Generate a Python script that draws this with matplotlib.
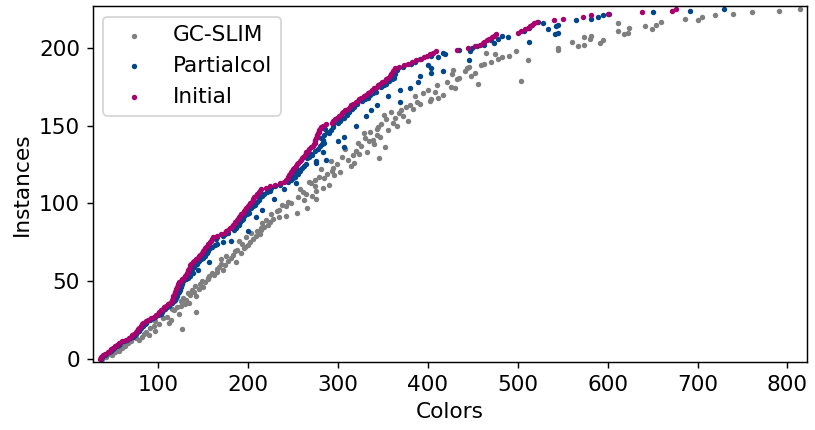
import matplotlib
matplotlib.use("Agg")
import matplotlib.pyplot as plt
import numpy as np

# colours per instance, instances ordered by the Initial colouring
initial = [
    35, 37, 39, 41, 44, 46, 48, 50, 52, 54,
    57, 60, 64, 68, 70, 71, 73, 75, 76, 78,
    79, 81, 82, 83, 86, 89, 92, 95, 98, 100,
    101, 103, 105, 107, 109, 111, 113, 115, 116, 117,
    117, 118, 119, 119, 120, 120, 121, 122, 122, 123,
    125, 127, 129, 130, 131, 132, 133, 133, 134, 135,
    135, 137, 139, 140, 142, 144, 146, 147, 149, 150,
    151, 152, 153, 155, 156, 158, 159, 160, 161, 166,
    170, 174, 176, 178, 180, 182, 183, 185, 186, 188,
    189, 190, 191, 192, 194, 195, 197, 198, 200, 201,
    202, 204, 205, 206, 207, 209, 210, 212, 213, 215,
    220, 224, 230, 236, 240, 242, 244, 245, 246, 247,
    248, 249, 250, 251, 253, 255, 256, 258, 259, 260,
    261, 263, 264, 265, 267, 268, 270, 272, 273, 274,
    275, 275, 276, 277, 277, 278, 279, 279, 280, 281,
    283, 287, 293, 295, 297, 299, 301, 303, 304, 306,
    308, 311, 313, 315, 317, 320, 322, 324, 326, 329,
    331, 333, 336, 338, 340, 343, 345, 347, 349, 352,
    354, 356, 358, 359, 360, 361, 362, 363, 368, 374,
    378, 382, 387, 392, 396, 399, 402, 406, 409, 433,
    445, 452, 458, 461, 463, 466, 468, 471, 474, 476,
    500, 504, 508, 511, 514, 516, 518, 521, 540, 550,
    573, 581, 600, 638, 672, 676,
]

partialcol = [
    36, 38, 41, 42, 45, 48, 50, 51, 54, 56,
    58, 62, 65, 69, 72, 74, 75, 77, 79, 80,
    81, 83, 85, 86, 88, 91, 94, 97, 100, 103,
    104, 105, 108, 110, 112, 113, 116, 118, 119, 120,
    121, 120, 122, 123, 124, 123, 125, 126, 127, 127,
    128, 131, 133, 136, 134, 139, 137, 144, 138, 140,
    141, 143, 157, 145, 148, 150, 152, 151, 154, 156,
    155, 158, 160, 163, 165, 172, 181, 164, 166, 172,
    174, 178, 200, 184, 187, 186, 190, 189, 191, 193,
    194, 209, 196, 199, 201, 200, 216, 203, 206, 208,
    207, 210, 212, 229, 213, 216, 218, 221, 224, 240,
    226, 230, 236, 253, 245, 248, 250, 252, 249, 256,
    253, 258, 255, 260, 262, 264, 276, 276, 287, 266,
    268, 271, 270, 283, 275, 278, 307, 280, 282, 285,
    300, 283, 281, 307, 284, 290, 288, 292, 286, 294,
    320, 295, 300, 302, 303, 307, 331, 310, 309, 312,
    337, 316, 318, 344, 321, 369, 327, 330, 333, 356,
    336, 339, 342, 369, 380, 348, 351, 354, 389, 357,
    360, 362, 391, 364, 404, 417, 366, 404, 372, 400,
    381, 386, 446, 391, 411, 403, 419, 417, 447, 435,
    449, 455, 462, 474, 513, 470, 478, 489, 483, 541,
    545, 507, 534, 512, 543, 545, 528, 523, 565, 581,
    589, 595, 602, 650, 692, 730,
]

gcslim = [
    38, 42, 49, 47, 52, 57, 56, 60, 63, 61,
    67, 70, 79, 75, 82, 90, 84, 86, 97, 127,
    91, 95, 101, 112, 96, 114, 105, 110, 103, 123,
    142, 118, 115, 121, 126, 130, 134, 125, 131, 128,
    142, 136, 133, 140, 138, 145, 150, 141, 147, 152,
    149, 156, 155, 157, 162, 160, 166, 172, 165, 168,
    174, 170, 187, 178, 170, 181, 176, 183, 192, 185,
    188, 195, 197, 200, 193, 202, 190, 205, 198, 209,
    213, 203, 210, 215, 214, 218, 222, 216, 225, 220,
    228, 235, 242, 226, 254, 232, 235, 266, 242, 238,
    248, 245, 262, 276, 256, 271, 264, 261, 276, 258,
    283, 275, 290, 270, 268, 274, 285, 279, 296, 288,
    302, 293, 281, 294, 315, 299, 318, 292, 311, 346,
    305, 317, 323, 332, 320, 308, 352, 326, 340, 322,
    335, 339, 330, 347, 343, 329, 336, 356, 343, 345,
    366, 348, 361, 378, 354, 363, 372, 351, 368, 359,
    370, 384, 376, 380, 391, 388, 402, 404, 411, 386,
    417, 395, 408, 400, 430, 426, 410, 456, 421, 504,
    433, 435, 448, 427, 452, 441, 428, 444, 446, 459,
    462, 470, 511, 478, 483, 490, 475, 465, 498, 545,
    545, 567, 574, 592, 560, 595, 580, 574, 582, 618,
    623, 611, 649, 624, 642, 654, 611, 659, 700, 686,
    705, 719, 740, 761, 791, 814,
]

instances = np.arange(len(initial))

plt.rcParams["font.size"] = 12

fig, ax = plt.subplots(figsize=(8.15 / 1.3, 4.3 / 1.3), dpi=130)
ax.scatter(gcslim, instances, s=9, color="#7f7f7f", linewidths=0, label="GC-SLIM")
ax.scatter(partialcol, instances, s=9, color="#00468b", linewidths=0, label="Partialcol")
ax.scatter(initial, instances, s=9, color="#a8006e", linewidths=0, label="Initial")
ax.margins(0.01)
ax.set_xlabel("Colors")
ax.set_ylabel("Instances")
ax.legend(loc="upper left")
fig.subplots_adjust(left=0.1137, right=0.9902, bottom=0.158, top=0.9867)
fig.savefig("out.png", dpi=130)
